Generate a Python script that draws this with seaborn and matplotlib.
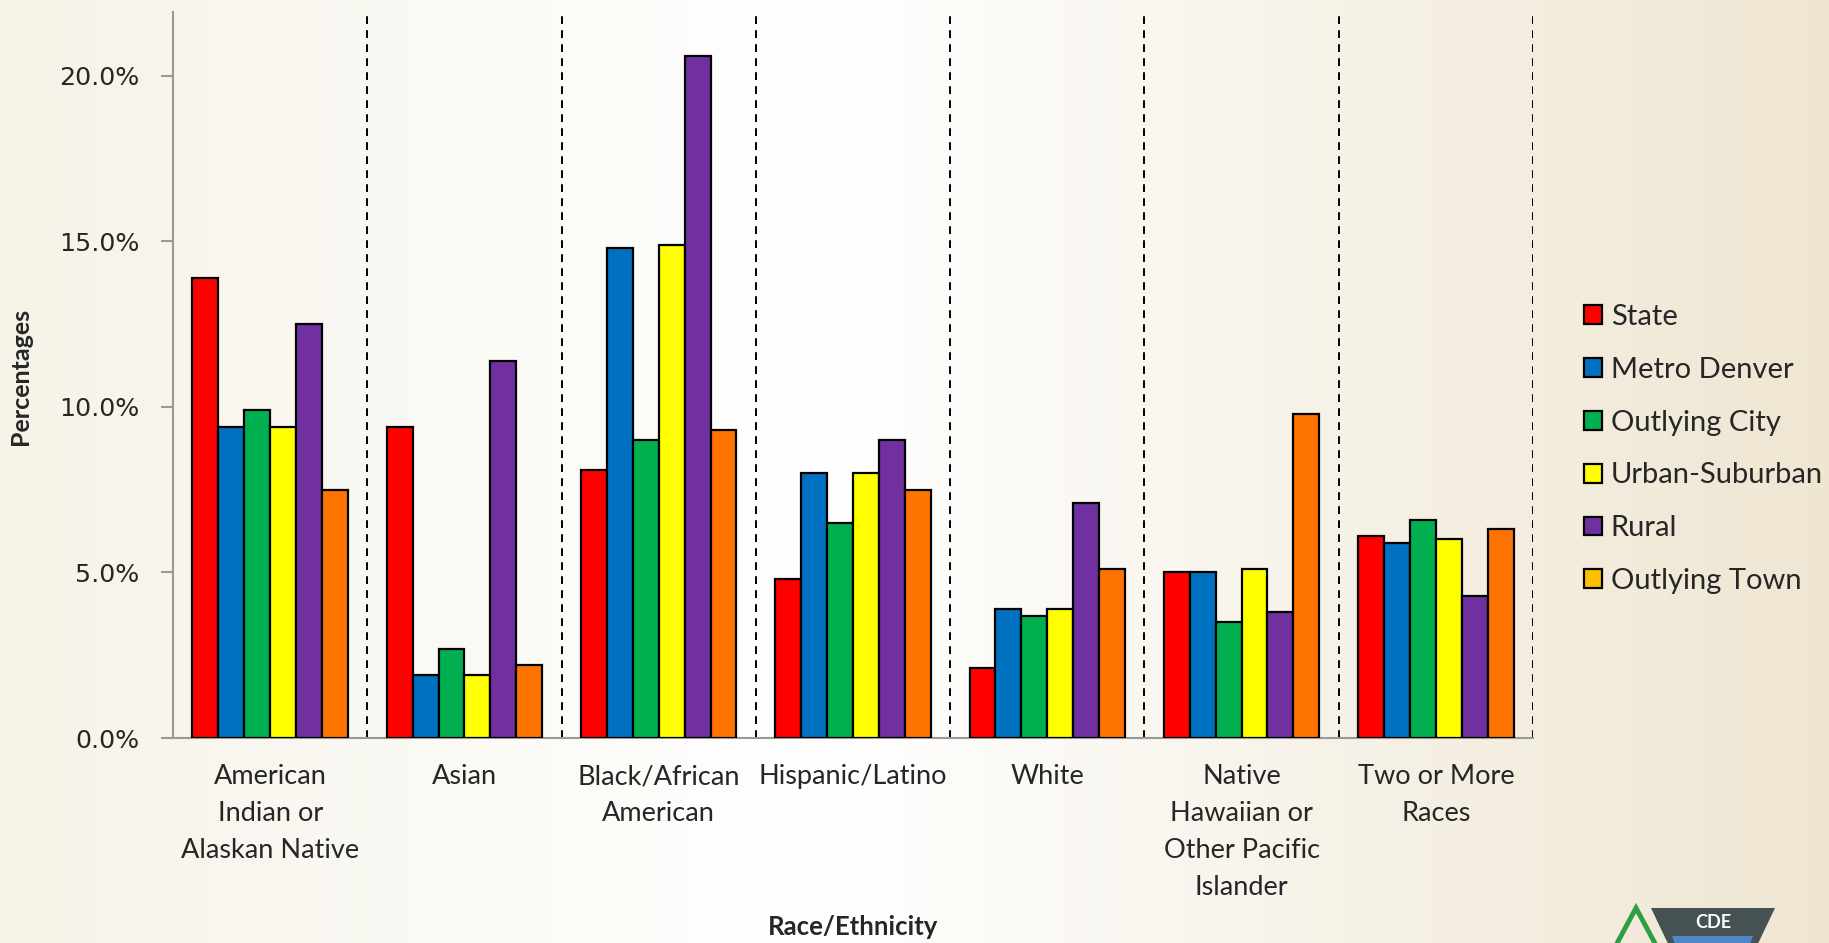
import matplotlib
matplotlib.use("Agg")
import matplotlib.pyplot as plt
from matplotlib.patches import Patch, Polygon
import seaborn as sns
import pandas as pd
import numpy as np

categories = ["American\nIndian or\nAlaskan Native", "Asian", "Black/African\nAmerican",
              "Hispanic/Latino", "White", "Native\nHawaiian or\nOther Pacific\nIslander",
              "Two or More\nRaces"]
groups = ["State", "Metro Denver", "Outlying City", "Urban-Suburban", "Rural", "Outlying Town"]

state = [13.9, 9.4, 8.1, 4.8, 2.1, 5.0, 6.1]
metro_denver = [9.4, 1.9, 14.8, 8.0, 3.9, 5.0, 5.9]
outlying_city = [9.9, 2.7, 9.0, 6.5, 3.7, 3.5, 6.6]
urban_suburban = [9.4, 1.9, 14.9, 8.0, 3.9, 5.1, 6.0]
rural = [12.5, 11.4, 20.6, 9.0, 7.1, 3.8, 4.3]
outlying_town = [7.5, 2.2, 9.3, 7.5, 5.1, 9.8, 6.3]

bar_colors = ["#FF0000", "#0070C0", "#00B050", "#FFFF00", "#7030A0", "#FF7300"]
legend_colors = ["#FF0000", "#0070C0", "#00B050", "#FFFF00", "#7030A0", "#FFC000"]

series = [state, metro_denver, outlying_city, urban_suburban, rural, outlying_town]
rows = []
for g, vals in zip(groups, series):
    for c, v in zip(categories, vals):
        rows.append({"Race": c, "Group": g, "Pct": v})
df = pd.DataFrame(rows)

sns.set_style("white")
plt.rcParams["font.family"] = ["Lato", "DejaVu Sans"]

W, H = 1829, 943
fig = plt.figure(figsize=(W / 100, H / 100), dpi=100)

# background gradient
bg = fig.add_axes([0, 0, 1, 1], zorder=-10)
xs = np.linspace(0, 1, 400)
left = np.array([246, 243, 232]) / 255
mid = np.array([255, 255, 255]) / 255
right = np.array([239, 230, 210]) / 255
grad = np.zeros((2, 400, 3))
for i, x in enumerate(xs):
    if x < 0.45:
        t = x / 0.45
        col = left * (1 - t) + mid * t
    else:
        t = (x - 0.45) / 0.55
        col = mid * (1 - t) + right * t
    grad[:, i, :] = col
bg.imshow(grad, aspect="auto", extent=[0, 1, 0, 1])
bg.set_xlim(0, 1)
bg.set_ylim(0, 1)
bg.axis("off")

ax = fig.add_axes([173 / W, 1 - 738 / H, (1533 - 173) / W, (738 - 12) / H])
ax.patch.set_alpha(0)

sns.barplot(data=df, x="Race", y="Pct", hue="Group", hue_order=groups,
            palette=bar_colors, edgecolor="black", linewidth=1.6, saturation=1,
            width=0.8, ax=ax, legend=False, zorder=3)

ax.set_xlim(-0.5, 6.5)
ax.set_ylim(0, 21.93)
ax.set_yticks([0, 5, 10, 15, 20])
ax.set_yticklabels(["0.0%", "5.0%", "10.0%", "15.0%", "20.0%"], fontfamily="DejaVu Sans", fontsize=18.2)
ax.set_xticks(range(7))
ax.set_xticklabels(categories, fontsize=19.5, linespacing=1.6)
ax.set_xticks(np.arange(-0.5, 7, 1), minor=True)
ax.tick_params(axis="x", which="major", length=0, pad=19)
ax.tick_params(axis="x", which="minor", length=9, color="#999999", width=1.5)
ax.tick_params(axis="y", length=9, color="#999999", width=1.5, pad=15, left=True)
ax.set_xlabel("")
ax.set_ylabel("")

for s in ["top", "right"]:
    ax.spines[s].set_visible(False)
for s in ["left", "bottom"]:
    ax.spines[s].set_color("#999999")
    ax.spines[s].set_linewidth(1.5)

for b in np.arange(0.5, 7, 1):
    ax.axvline(b, color="black", linestyle=(0, (4, 3.2)), linewidth=1.4, zorder=1)

fig.text(21 / W, 1 - 376 / H, "Percentages", rotation=90, ha="center", va="center",
         fontsize=18, fontweight="bold")
fig.text(853 / W, 1 - 927 / H, "Race/Ethnicity", ha="center", va="center",
         fontsize=18.5, fontweight="bold")

handles = [Patch(facecolor=c, edgecolor="black", linewidth=1.6, label=g)
           for c, g in zip(legend_colors, groups)]
fig.legend(handles=handles, loc="center left", bbox_to_anchor=(1584 / W, 1 - 449 / H),
           frameon=False, fontsize=21, handlelength=0.62, handleheight=0.62,
           handletextpad=0.3, labelspacing=0.92, borderpad=0, borderaxespad=0)

# CDE logo fragment at bottom right (pixel coords, y from top)
def px(points):
    return [[x, H - y] for x, y in points]

tri = Polygon(px([[1600, 975], [1636, 908], [1672, 975]]), closed=True, fill=False,
              edgecolor="#2E9E44", linewidth=3.5, transform=None)
fig.patches.append(tri)
trap = Polygon(px([[1651, 908], [1775, 908], [1755, 950], [1671, 950]]), closed=True,
               facecolor="#465152", edgecolor="none", transform=None)
fig.patches.append(trap)
blue = Polygon(px([[1672, 936], [1753, 936], [1748, 950], [1677, 950]]), closed=True,
               facecolor="#4F86C6", edgecolor="none", transform=None)
fig.patches.append(blue)
fig.text(1713 / W, 1 - 922 / H, "CDE", ha="center", va="center", color="white",
         fontsize=13, fontweight="bold")

fig.savefig("out.png", dpi=100)
